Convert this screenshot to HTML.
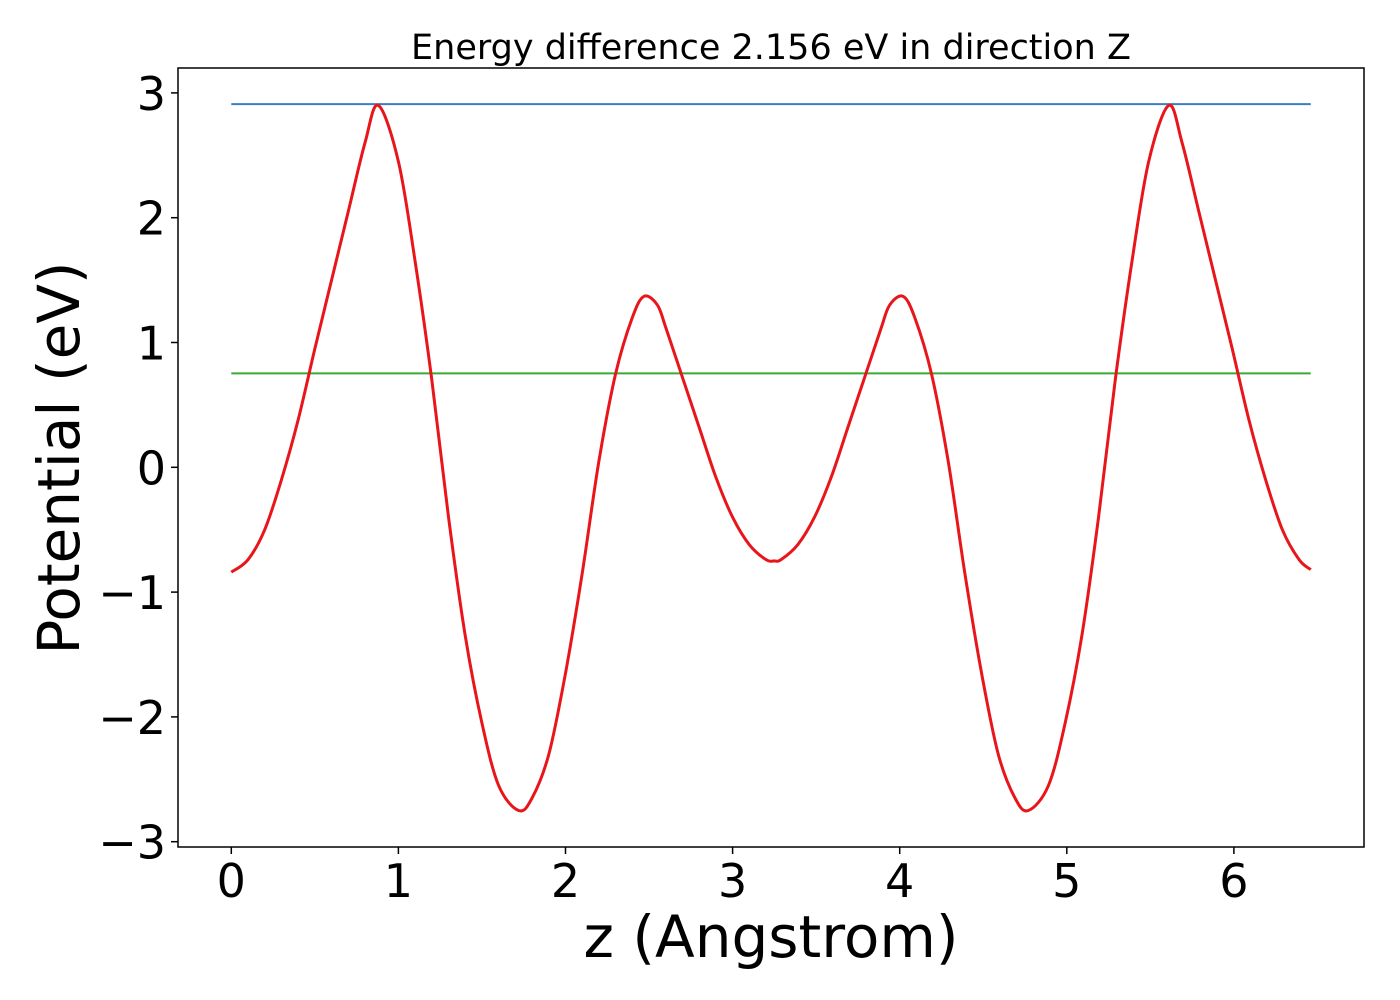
<!DOCTYPE html>
<html><head><meta charset="utf-8"><style>
body{margin:0;background:#fff;}
svg{display:block;font-family:"DejaVu Sans","Liberation Sans",sans-serif;}
</style></head><body>
<svg id="chart" width="1400" height="1000">
<rect width="1400" height="1000" fill="#fff"/>
<text x="771" y="59" font-size="35" text-anchor="middle">Energy difference 2.156 eV in direction Z</text>
<g id="marks"></g>
<g id="axes"></g>
<text x="771" y="957" font-size="58" text-anchor="middle">z (Angstrom)</text>
<text transform="translate(79,458) rotate(-90)" font-size="58" text-anchor="middle">Potential (eV)</text>
</svg>
<script>
const xs = [0,0.1,0.2,0.3,0.4,0.5,0.6,0.7,0.8,0.88,1.0,1.1,1.2,1.3,1.4,1.5,1.6,1.72,1.8,1.9,2.0,2.1,2.2,2.3,2.4,2.47,2.55,2.6,2.7,2.8,2.9,3.0,3.1,3.2,3.25,3.29,3.39,3.49,3.59,3.69,3.79,3.89,3.94,4.02,4.09,4.19,4.29,4.39,4.49,4.59,4.69,4.77,4.89,4.99,5.09,5.19,5.29,5.39,5.49,5.61,5.69,5.79,5.89,5.99,6.09,6.19,6.29,6.39,6.46];
const potential = [-0.84,-0.74,-0.5,-0.1,0.38,0.95,1.5,2.05,2.6,2.9,2.45,1.65,0.7,-0.4,-1.35,-2.05,-2.55,-2.75,-2.65,-2.3,-1.65,-0.85,0.05,0.75,1.2,1.37,1.3,1.12,0.72,0.32,-0.08,-0.4,-0.62,-0.74,-0.75,-0.74,-0.62,-0.4,-0.08,0.32,0.72,1.12,1.3,1.37,1.2,0.75,0.05,-0.85,-1.65,-2.3,-2.65,-2.75,-2.55,-2.05,-1.35,-0.4,0.7,1.65,2.45,2.9,2.6,2.05,1.5,0.95,0.38,-0.1,-0.5,-0.74,-0.82];
const maxLevel = [2.91];
const meanLevel = [0.753];
const xTicks = [0,1,2,3,4,5,6];
const yTicks = [-3,-2,-1,0,1,2,3];
const xRange = [0, 6.46];

const L=178,R=1364,T=68,B=847;
const sx = v => 231.3 + v*167.1;
const sy = v => 467.3 - v*124.8;
const NS="http://www.w3.org/2000/svg";
const marks=document.getElementById('marks'), axes=document.getElementById('axes');
function mk(tag, attrs, parent){const e=document.createElementNS(NS,tag);for(const k in attrs)e.setAttribute(k,attrs[k]);parent.appendChild(e);return e;}

const blue = mk('line',{x1:sx(xRange[0]),x2:sx(xRange[1]),y1:sy(maxLevel[0]),y2:sy(maxLevel[0]),stroke:'#3a7fc1','stroke-width':2},marks);


const green = mk('line',{x1:sx(xRange[0]),x2:sx(xRange[1]),y1:sy(meanLevel[0]),y2:sy(meanLevel[0]),stroke:'#3aaa35','stroke-width':2},marks);



const P = xs.map((x,i)=>[sx(x),sy(potential[i])]);
let d = `M${P[0][0]},${P[0][1]}`;
for(let i=0;i<P.length-1;i++){
  const p0=P[Math.max(0,i-1)],p1=P[i],p2=P[i+1],p3=P[Math.min(P.length-1,i+2)];
  const c1=[p1[0]+(p2[0]-p0[0])/6,p1[1]+(p2[1]-p0[1])/6];
  const c2=[p2[0]-(p3[0]-p1[0])/6,p2[1]-(p3[1]-p1[1])/6];
  d+=` C${c1[0]},${c1[1]} ${c2[0]},${c2[1]} ${p2[0]},${p2[1]}`;
}
const curve = mk('path',{d:d,fill:'none',stroke:'#e8161b','stroke-width':3,'stroke-linejoin':'round'},marks);



const frame = mk('rect',{x:L,y:T,width:R-L,height:B-T,fill:'none',stroke:'#000','stroke-width':1.5},axes);



xTicks.forEach(t=>{
  const x=sx(t);
  const tk=mk('line',{x1:x,x2:x,y1:B,y2:B+7,stroke:'#000','stroke-width':1.5},axes);
  
  
  const lb=mk('text',{x:x,y:B+50,'font-size':46,'text-anchor':'middle'},axes);
  lb.textContent=String(t);
  
  
});
yTicks.forEach(t=>{
  const y=sy(t);
  const tk=mk('line',{x1:L-7,x2:L,y1:y,y2:y,stroke:'#000','stroke-width':1.5},axes);
  
  
  const lb=mk('text',{x:L-12,y:y+17,'font-size':46,'text-anchor':'end'},axes);
  lb.textContent=(t<0?'\u2212':'')+Math.abs(t);
  
  
});
</script>
</body></html>
